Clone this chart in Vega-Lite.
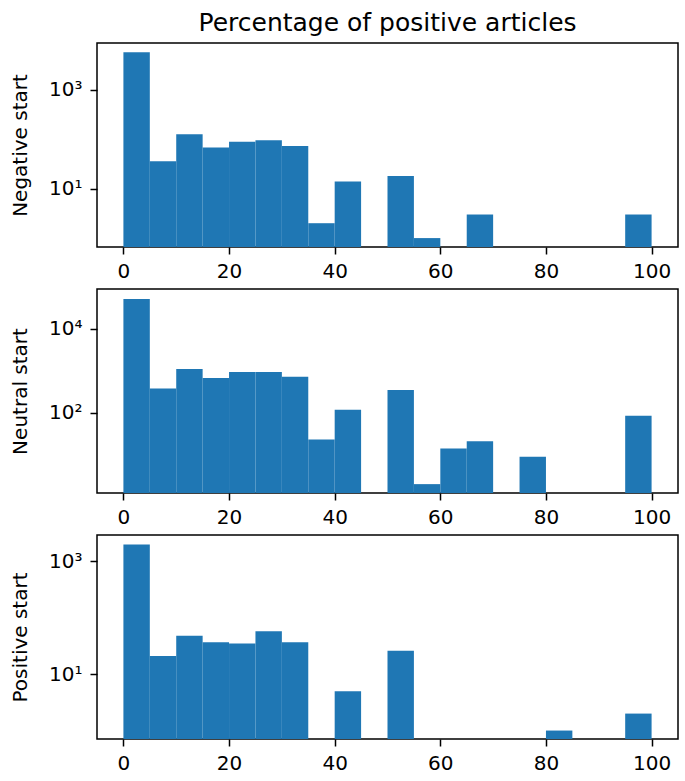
{
  "$schema": "https://vega.github.io/schema/vega-lite/v6.json",
  "padding": {"left": 9, "top": 10, "right": 5, "bottom": 5},
  "background": "white",
  "datasets": {
    "neg": [
      {"bin_start": 0, "bin_end": 5, "count": 5750},
      {"bin_start": 5, "bin_end": 10, "count": 36},
      {"bin_start": 10, "bin_end": 15, "count": 127},
      {"bin_start": 15, "bin_end": 20, "count": 68},
      {"bin_start": 20, "bin_end": 25, "count": 89},
      {"bin_start": 25, "bin_end": 30, "count": 96},
      {"bin_start": 30, "bin_end": 35, "count": 73},
      {"bin_start": 35, "bin_end": 40, "count": 2},
      {"bin_start": 40, "bin_end": 45, "count": 14},
      {"bin_start": 50, "bin_end": 55, "count": 18},
      {"bin_start": 55, "bin_end": 60, "count": 1},
      {"bin_start": 65, "bin_end": 70, "count": 3},
      {"bin_start": 95, "bin_end": 100, "count": 3}
    ],
    "neu": [
      {"bin_start": 0, "bin_end": 5, "count": 51000},
      {"bin_start": 5, "bin_end": 10, "count": 378},
      {"bin_start": 10, "bin_end": 15, "count": 1092},
      {"bin_start": 15, "bin_end": 20, "count": 667},
      {"bin_start": 20, "bin_end": 25, "count": 927},
      {"bin_start": 25, "bin_end": 30, "count": 927},
      {"bin_start": 30, "bin_end": 35, "count": 716},
      {"bin_start": 35, "bin_end": 40, "count": 23},
      {"bin_start": 40, "bin_end": 45, "count": 118},
      {"bin_start": 50, "bin_end": 55, "count": 346},
      {"bin_start": 55, "bin_end": 60, "count": 2},
      {"bin_start": 60, "bin_end": 65, "count": 14},
      {"bin_start": 65, "bin_end": 70, "count": 21},
      {"bin_start": 75, "bin_end": 80, "count": 9},
      {"bin_start": 95, "bin_end": 100, "count": 85}
    ],
    "pos": [
      {"bin_start": 0, "bin_end": 5, "count": 2005},
      {"bin_start": 5, "bin_end": 10, "count": 21},
      {"bin_start": 10, "bin_end": 15, "count": 48},
      {"bin_start": 15, "bin_end": 20, "count": 37},
      {"bin_start": 20, "bin_end": 25, "count": 35},
      {"bin_start": 25, "bin_end": 30, "count": 58},
      {"bin_start": 30, "bin_end": 35, "count": 37},
      {"bin_start": 40, "bin_end": 45, "count": 5},
      {"bin_start": 50, "bin_end": 55, "count": 26},
      {"bin_start": 80, "bin_end": 85, "count": 1},
      {"bin_start": 95, "bin_end": 100, "count": 2}
    ]
  },
  "config": {
    "font": "DejaVu Sans",
    "view": {"stroke": "black", "strokeWidth": 1.5},
    "axis": {
      "grid": false,
      "domain": false,
      "tickColor": "black",
      "tickSize": 7,
      "tickWidth": 1.5,
      "labelColor": "black",
      "labelFontSize": 20,
      "labelFont": "DejaVu Sans",
      "titleFont": "DejaVu Sans",
      "titleFontSize": 20,
      "titleFontWeight": "normal",
      "titleColor": "black",
      "labelPadding": 7
    },
    "title": {"fontSize": 25, "fontWeight": "normal", "color": "black", "font": "DejaVu Sans"}
  },
  "spacing": 6,
  "vconcat": [
    {
      "width": 581,
      "height": 204,
      "data": {"name": "neg"},
      "title": {"text": "Percentage of positive articles", "frame": "group", "anchor": "middle", "offset": 7},
      "mark": {"type": "bar", "color": "#1f77b4"},
      "encoding": {
        "x": {"field": "bin_start", "type": "quantitative", "scale": {"domain": [-5, 105], "nice": false, "zero": false}, "axis": {"values": [0, 20, 40, 60, 80, 100], "title": null, "labelFlush": false}},
        "x2": {"field": "bin_end"},
        "y": {"field": "count", "type": "quantitative", "scale": {"type": "log", "domain": [0.66, 8870], "nice": false}, "axis": {"values": [10, 1000], "title": "Negative start", "labelExpr": "datum.value == 10 ? '10¹' : datum.value == 100 ? '10²' : datum.value == 1000 ? '10³' : '10⁴'", "labelPadding": 8, "titlePadding": 18}},
        "y2": {"datum": 0.66}
      }
    },
    {
      "width": 581,
      "height": 204,
      "data": {"name": "neu"},
      "mark": {"type": "bar", "color": "#1f77b4"},
      "encoding": {
        "x": {"field": "bin_start", "type": "quantitative", "scale": {"domain": [-5, 105], "nice": false, "zero": false}, "axis": {"values": [0, 20, 40, 60, 80, 100], "title": null, "labelFlush": false}},
        "x2": {"field": "bin_end"},
        "y": {"field": "count", "type": "quantitative", "scale": {"type": "log", "domain": [1.23, 88100], "nice": false}, "axis": {"values": [100, 10000], "title": "Neutral start", "labelExpr": "datum.value == 10 ? '10¹' : datum.value == 100 ? '10²' : datum.value == 1000 ? '10³' : '10⁴'", "labelPadding": 8, "titlePadding": 18}},
        "y2": {"datum": 1.23}
      }
    },
    {
      "width": 581,
      "height": 204,
      "data": {"name": "pos"},
      "mark": {"type": "bar", "color": "#1f77b4"},
      "encoding": {
        "x": {"field": "bin_start", "type": "quantitative", "scale": {"domain": [-5, 105], "nice": false, "zero": false}, "axis": {"values": [0, 20, 40, 60, 80, 100], "title": null, "labelFlush": false}},
        "x2": {"field": "bin_end"},
        "y": {"field": "count", "type": "quantitative", "scale": {"type": "log", "domain": [0.708, 2951], "nice": false}, "axis": {"values": [10, 1000], "title": "Positive start", "labelExpr": "datum.value == 10 ? '10¹' : datum.value == 100 ? '10²' : datum.value == 1000 ? '10³' : '10⁴'", "labelPadding": 8, "titlePadding": 18}},
        "y2": {"datum": 0.708}
      }
    }
  ]
}
